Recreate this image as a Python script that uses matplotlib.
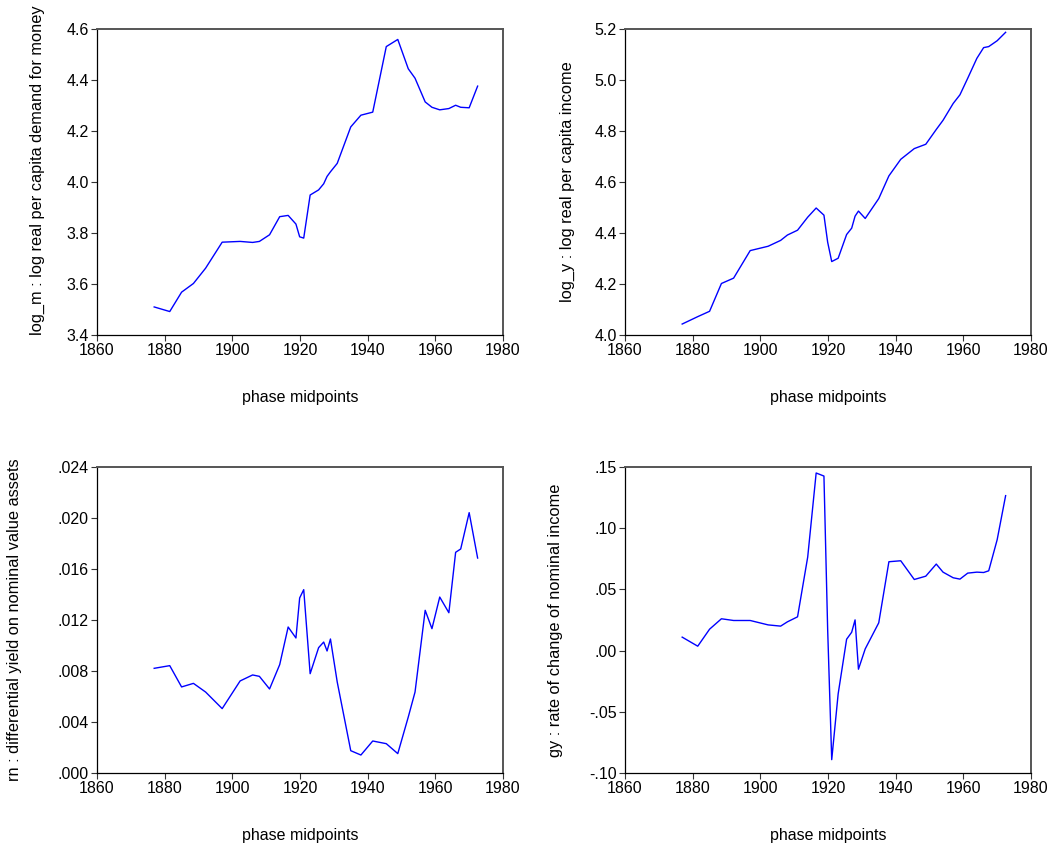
import matplotlib
matplotlib.use('Agg')
import matplotlib.pyplot as plt
from matplotlib.ticker import FuncFormatter

# phase midpoints (shared x for all panels)
years = [1876.9, 1881.5, 1885.0, 1888.5, 1892.1, 1897.0, 1902.3, 1906.0, 1908.0,
         1911.0, 1914.0, 1916.5, 1918.8, 1919.9, 1921.1, 1923.0, 1925.5, 1927.0,
         1928.0, 1929.0, 1931.0, 1935.0, 1938.0, 1941.5, 1945.5, 1948.9, 1952.0,
         1954.0, 1957.0, 1959.0, 1961.3, 1964.0, 1966.0, 1967.5, 1970.0, 1972.5]

log_m = [3.510, 3.492, 3.568, 3.602, 3.662, 3.764, 3.767, 3.763, 3.767,
         3.793, 3.864, 3.869, 3.835, 3.785, 3.780, 3.949, 3.969, 3.993,
         4.022, 4.040, 4.073, 4.216, 4.262, 4.274, 4.531, 4.559, 4.444,
         4.407, 4.314, 4.293, 4.283, 4.288, 4.301, 4.293, 4.291, 4.376]

log_y = [4.043, 4.072, 4.093, 4.202, 4.223, 4.331, 4.348, 4.371, 4.392,
         4.411, 4.462, 4.498, 4.470, 4.364, 4.288, 4.301, 4.394, 4.419,
         4.466, 4.486, 4.457, 4.535, 4.624, 4.689, 4.731, 4.748, 4.806,
         4.842, 4.908, 4.942, 5.007, 5.085, 5.127, 5.131, 5.154, 5.187]

rn = [.00821, .00842, .00675, .00703, .00635, .00505, .00722, .00769, .00758,
      .00659, .00850, .01145, .01059, .01373, .01438, .00779, .00983, .01027,
      .00957, .01051, .00714, .00175, .00141, .00251, .00230, .00152, .00439,
      .00635, .01276, .01132, .01380, .01257, .01731, .01757, .02042, .01686]

gy = [.0110, .0036, .0175, .0260, .0246, .0246, .0210, .0200, .0235,
      .0276, .0764, .1451, .1426, .0172, -.0891, -.0354, .0093, .0150,
      .0251, -.0152, .0014, .0227, .0726, .0734, .0581, .0608, .0707,
      .0641, .0595, .0584, .0633, .0641, .0638, .0652, .0906, .1266]

panels = [
    (log_m, 'log_m : log real per capita demand for money', (3.4, 4.6), 0.2, 1),
    (log_y, 'log_y : log real per capita income', (4.0, 5.2), 0.2, 1),
    (rn, 'rn : differential yield on nominal value assets', (0.0, 0.024), 0.004, 3),
    (gy, 'gy : rate of change of nominal income', (-0.10, 0.15), 0.05, 2),
]

plt.rcParams['font.family'] = ['Liberation Sans', 'DejaVu Sans']

fig = plt.figure(figsize=(10.53, 8.47), dpi=100)
W, H = 1053.0, 847.0
boxes = [(97, 29), (625, 29), (97, 467), (625, 467)]
ylab_x = [-0.128, -0.123, -0.185, -0.153]
ylab_y = [0.54, 0.5, 0.5, 0.5]


def make_fmt(dec):
    def f(v, pos):
        s = f'{v:.{dec}f}'
        if abs(v) < 1:
            s = s.replace('0.', '.')
        if s.lstrip('-').strip('.0') == '':
            s = '.' + '0' * dec
        return s
    return f


for i, (vals, label, ylim, step, dec) in enumerate(panels):
    left, top = boxes[i]
    ax = fig.add_axes([left / W, 1 - (top + 306) / H, 406 / W, 306 / H])
    ax.plot(years, vals, color='#0000ff', lw=1.0)
    ax.set_xlim(1860, 1980)
    ax.set_ylim(*ylim)
    ax.set_xticks(range(1860, 1981, 20))
    n = int(round((ylim[1] - ylim[0]) / step))
    ax.set_yticks([ylim[0] + k * step for k in range(n + 1)])
    ax.yaxis.set_major_formatter(FuncFormatter(make_fmt(dec)))
    ax.tick_params(direction='out', length=4, width=0.8, labelsize=11.5,
                   colors='#333333', labelcolor='black', pad=2)
    for side in ['left', 'bottom']:
        ax.spines[side].set_color('black')
        ax.spines[side].set_linewidth(0.9)
    for side in ['top', 'right']:
        ax.spines[side].set_color('#555555')
        ax.spines[side].set_linewidth(1.4)
    ax.set_xlabel('phase midpoints', fontsize=11.5)
    ax.set_ylabel(label, fontsize=11.8)
    ax.xaxis.set_label_coords(0.5, -0.18)
    ax.yaxis.set_label_coords(ylab_x[i], ylab_y[i])

fig.savefig('out.png', dpi=100)
